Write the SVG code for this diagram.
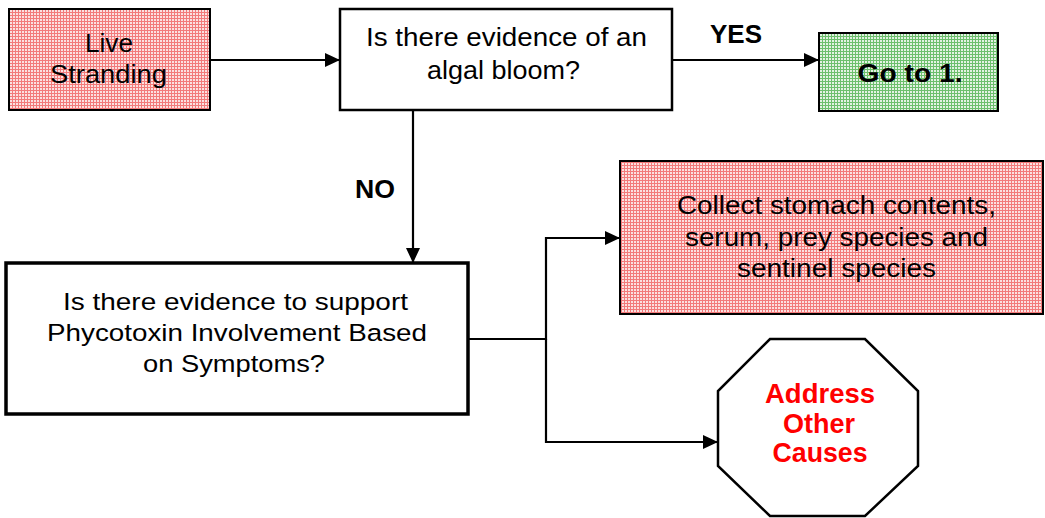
<svg xmlns="http://www.w3.org/2000/svg" width="1045" height="518" viewBox="0 0 1045 518">
<defs>
<pattern id="pinkGrid" width="3" height="3" patternUnits="userSpaceOnUse">
<rect width="3" height="3" fill="#fbe0e0"/>
<rect width="3" height="1" fill="#f27a7a"/>
<rect width="1" height="3" fill="#f27a7a"/>
</pattern>
<pattern id="greenGrid" width="3" height="3" patternUnits="userSpaceOnUse">
<rect width="3" height="3" fill="#e2f2e2"/>
<rect width="3" height="1" fill="#6cbf6c"/>
<rect width="1" height="3" fill="#6cbf6c"/>
</pattern>
<marker id="arr" markerUnits="userSpaceOnUse" markerWidth="16" markerHeight="14" refX="15" refY="7" orient="auto">
<path d="M0,0 L15,7 L0,14 Z" fill="#000"/>
</marker>
</defs>
<style>
.box{stroke:#000}
.t{font-family:"Liberation Sans",Arial,sans-serif;fill:#000;text-anchor:middle}
.b{font-weight:bold}
.red{fill:#ff0000}
.conn{fill:none;stroke:#000;stroke-width:2.2}
</style>
<g id="connectors">
<path class="conn" d="M210,60 H340" marker-end="url(#arr)"/>
<path class="conn" d="M672,60 H819" marker-end="url(#arr)"/>
<path class="conn" d="M413,110 V263" marker-end="url(#arr)"/>
<path class="conn" d="M465,339 H546 V238 H620" marker-end="url(#arr)"/>
<path class="conn" d="M546,339 V442 H718" marker-end="url(#arr)"/>
<text class="t b" style="font-size:25px" x="736" y="43" textLength="52" lengthAdjust="spacingAndGlyphs">YES</text>
<text class="t b" style="font-size:25px" x="375" y="198" textLength="40" lengthAdjust="spacingAndGlyphs">NO</text>
</g>
<g id="live-stranding">
<rect class="box" x="9" y="9" width="201" height="101" fill="url(#pinkGrid)" stroke-width="2"/>
<text class="t" style="font-size:26px" x="109" y="52" textLength="48" lengthAdjust="spacingAndGlyphs">Live</text>
<text class="t" style="font-size:26px" x="108.5" y="83" textLength="117" lengthAdjust="spacingAndGlyphs">Stranding</text>
</g>
<g id="algal-bloom">
<rect class="box" x="340" y="9" width="332" height="101" fill="#fff" stroke-width="2.5"/>
<text class="t" style="font-size:25.5px" x="506.5" y="46" textLength="281" lengthAdjust="spacingAndGlyphs">Is there evidence of an</text>
<text class="t" style="font-size:25.5px" x="503.5" y="79" textLength="153" lengthAdjust="spacingAndGlyphs">algal bloom?</text>
</g>
<g id="go-to-1">
<rect class="box" x="819" y="33" width="179" height="78" fill="url(#greenGrid)" stroke-width="2"/>
<text class="t b" style="font-size:26px" x="910" y="82" textLength="105" lengthAdjust="spacingAndGlyphs">Go to 1.</text>
</g>
<g id="phycotoxin">
<rect class="box" x="6" y="263" width="462" height="151" fill="#fff" stroke-width="3.5"/>
<text class="t" style="font-size:24.5px" x="235.5" y="310" textLength="345" lengthAdjust="spacingAndGlyphs">Is there evidence to support</text>
<text class="t" style="font-size:24.5px" x="237" y="341" textLength="380" lengthAdjust="spacingAndGlyphs">Phycotoxin Involvement Based</text>
<text class="t" style="font-size:24.5px" x="234" y="372" textLength="182" lengthAdjust="spacingAndGlyphs">on Symptoms?</text>
</g>
<g id="collect">
<rect class="box" x="620" y="161" width="423" height="153" fill="url(#pinkGrid)" stroke-width="2"/>
<text class="t" style="font-size:25.5px" x="836.5" y="214" textLength="319" lengthAdjust="spacingAndGlyphs">Collect stomach contents,</text>
<text class="t" style="font-size:25.5px" x="836.5" y="246" textLength="303" lengthAdjust="spacingAndGlyphs">serum, prey species and</text>
<text class="t" style="font-size:25.5px" x="836.5" y="277" textLength="199" lengthAdjust="spacingAndGlyphs">sentinel species</text>
</g>
<g id="address-other-causes">
<polygon class="box" points="770,339 865,339 918,391 918,466 865,516 770,516 718,466 718,391" fill="#fff" stroke-width="2.5"/>
<text class="t b red" style="font-size:27px" x="820" y="403" textLength="110" lengthAdjust="spacingAndGlyphs">Address</text>
<text class="t b red" style="font-size:27px" x="819" y="433" textLength="72" lengthAdjust="spacingAndGlyphs">Other</text>
<text class="t b red" style="font-size:27px" x="820" y="462" textLength="95" lengthAdjust="spacingAndGlyphs">Causes</text>
</g>
</svg>
